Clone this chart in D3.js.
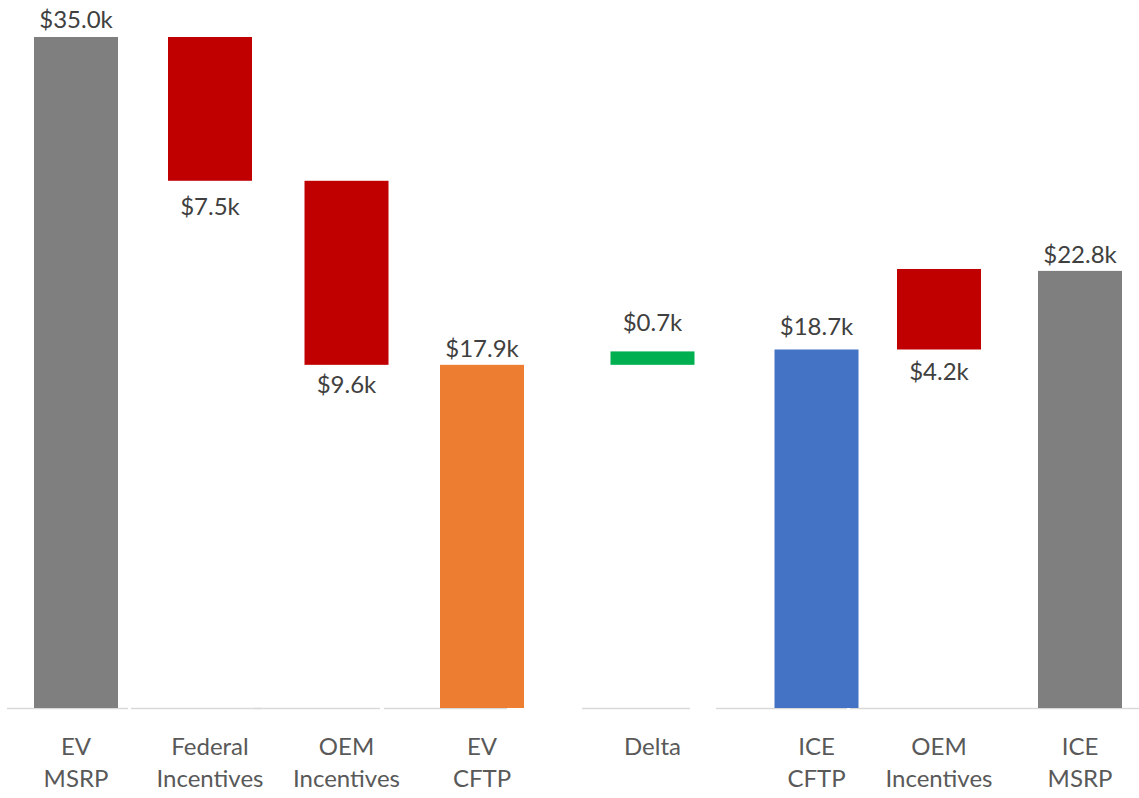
<!DOCTYPE html>
<html>
<head>
<meta charset="utf-8">
<script src="https://cdn.jsdelivr.net/npm/d3@7/dist/d3.min.js"></script>
<style>
  html, body { margin: 0; padding: 0; background: #fff; }
  svg { display: block; }
  text { font-family: Lato, "Open Sans", sans-serif; }
</style>
</head>
<body>
<svg id="chart" width="1139" height="798"></svg>
<script>
// ---- data ----
const categories = ["EV MSRP", "Federal Incentives", "OEM Incentives", "EV CFTP", "Delta", "ICE CFTP", "OEM Incentives ", "ICE MSRP"];
const labelLines = [["EV", "MSRP"], ["Federal", "Incentives"], ["OEM", "Incentives"], ["EV", "CFTP"], ["Delta"], ["ICE", "CFTP"], ["OEM", "Incentives"], ["ICE", "MSRP"]];
const values = [35.0, -7.5, -9.6, 17.9, 0.7, 18.7, 4.2, 22.8];
const kinds = ["total", "delta", "delta", "total", "delta", "total", "delta", "total"];
const valueLabels = ["$35.0k", "$7.5k", "$9.6k", "$17.9k", "$0.7k", "$18.7k", "$4.2k", "$22.8k"];
const labelSide = ["above", "below", "below", "above", "above", "above", "below", "above"];
const yDomain = [0, 35];

// ---- layout / style ----
const colors = ["#7f7f7f", "#c00000", "#c00000", "#ed7d31", "#00b050", "#4472c4", "#c00000", "#7f7f7f"];
const centers = [76, 210, 346.5, 482, 652.5, 816.5, 939, 1080];
const barW = 84;
const aboveGap = [9, 0, 0, 8, 20, 14, 0, 8];
const belowGap = [0, 34, 28, 0, 0, 0, 31, 0];
const axisSegments = [[7, 128], [131, 261], [254, 380], [384, 507], [582, 690], [716, 847], [850, 986], [986, 1139]];

const svg = d3.select("#chart");
const x = d3.scaleOrdinal().domain(categories).range(centers);
const y = d3.scaleLinear().domain(yDomain).range([708, 37]);

// compute waterfall spans
let running = 0;
const bars = categories.map((c, i) => {
  let lo, hi;
  if (kinds[i] === "total") { lo = 0; hi = values[i]; running = values[i]; }
  else { const s = running; running = s + values[i]; lo = Math.min(s, running); hi = Math.max(s, running); }
  return { c, i, lo, hi };
});

// axis baseline segments
svg.append("g").selectAll("line").data(axisSegments).join("line")
  .attr("x1", d => d[0]).attr("x2", d => d[1])
  .attr("y1", y(0) + 0.5).attr("y2", y(0) + 0.5)
  .attr("stroke", "#d9d9d9").attr("stroke-width", 1.5);

// bars
svg.append("g").selectAll("rect").data(bars).join("rect")
  .attr("x", d => x(d.c) - barW / 2)
  .attr("width", barW)
  .attr("y", d => y(d.hi))
  .attr("height", d => y(d.lo) - y(d.hi))
  .attr("fill", d => colors[d.i]);

// value labels
svg.append("g").selectAll("text").data(bars).join("text")
  .attr("x", d => x(d.c))
  .attr("y", d => labelSide[d.i] === "below" ? y(d.lo) + belowGap[d.i] : y(d.hi) - aboveGap[d.i])
  .attr("text-anchor", "middle")
  .attr("font-size", 24)
  .attr("fill", "#404040")
  .text(d => valueLabels[d.i]);

// category labels
const cat = svg.append("g").selectAll("text").data(categories).join("text")
  .attr("x", d => x(d))
  .attr("y", 755)
  .attr("text-anchor", "middle")
  .attr("font-size", 24)
  .attr("fill", "#595959");
cat.each(function(d, i) {
  const t = d3.select(this);
  labelLines[i].forEach((ln, j) => {
    t.append("tspan").attr("x", x(d)).attr("dy", j === 0 ? 0 : 32).text(ln);
  });
});
</script>
</body>
</html>
